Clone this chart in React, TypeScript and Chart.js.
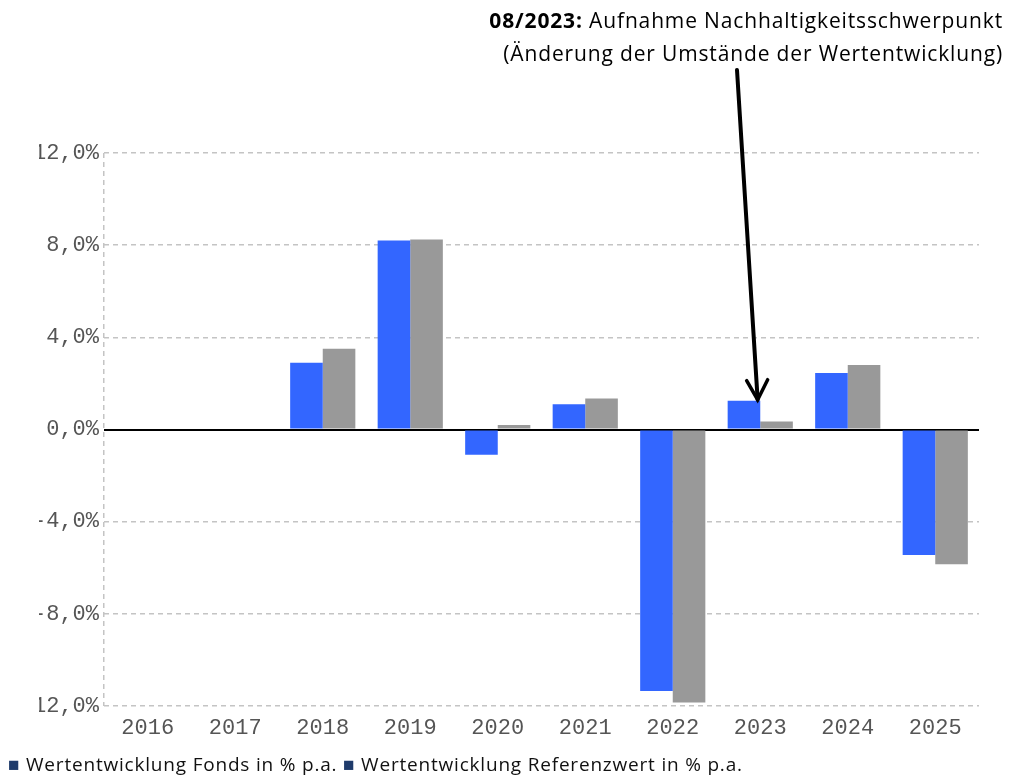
import React, { useEffect, useRef } from "react";
import { Chart, registerables } from "chart.js";

Chart.register(...registerables);

const categories = ["2016", "2017", "2018", "2019", "2020", "2021", "2022", "2023", "2024", "2025"];
const fondsValues: (number | null)[] = [null, null, 2.9, 8.2, -1.1, 1.1, -11.35, 1.25, 2.45, -5.45];
const refValues: (number | null)[] = [null, null, 3.5, 8.25, 0.2, 1.35, -11.85, 0.35, 2.8, -5.85];
const fondsLabel = "Wertentwicklung Fonds in % p.a.";
const refLabel = "Wertentwicklung Referenzwert in % p.a.";
const noteBold = "08/2023:";
const noteLine1 = " Aufnahme Nachhaltigkeitsschwerpunkt";
const noteLine2 = "(Änderung der Umstände der Wertentwicklung)";
const arrowIndex = 7;

const TICK_FONT = { family: "'Liberation Mono', 'DejaVu Sans Mono', monospace", size: 22 };

const arrowPlugin = {
  id: "arrowNote",
  afterDraw(chart: any) {
    const meta = chart.getDatasetMeta(0);
    const el = meta.data[arrowIndex];
    if (!el) return;
    const ctx = chart.ctx;
    const tipX = el.x + el.width * 0.42;
    const tipY = el.y - 1;
    const startX = 737;
    const startY = 70;
    ctx.save();
    ctx.strokeStyle = "#000";
    ctx.lineWidth = 4;
    ctx.lineCap = "round";
    ctx.beginPath();
    ctx.moveTo(startX, startY);
    ctx.lineTo(tipX, tipY);
    ctx.stroke();
    ctx.lineWidth = 3.5;
    ctx.beginPath();
    ctx.moveTo(tipX - 11, tipY - 19);
    ctx.lineTo(tipX, tipY);
    ctx.lineTo(tipX + 10, tipY - 20);
    ctx.stroke();
    ctx.restore();
  },
};

export default function App() {
  const canvasRef = useRef<HTMLCanvasElement | null>(null);

  useEffect(() => {
    if (!canvasRef.current) return;
    const chart = new Chart(canvasRef.current, {
      type: "bar",
      data: {
        labels: categories,
        datasets: [
          {
            label: fondsLabel,
            data: fondsValues,
            backgroundColor: "#3366ff",
            borderWidth: 0,
            categoryPercentage: 0.745,
            barPercentage: 1.0,
          },
          {
            label: refLabel,
            data: refValues,
            backgroundColor: "#999999",
            borderWidth: 0,
            categoryPercentage: 0.745,
            barPercentage: 1.0,
          },
        ],
      },
      options: {
        responsive: false,
        animation: false,
        devicePixelRatio: 1,
        layout: { padding: { top: 153, bottom: 32, left: 0, right: 35 } },
        plugins: {
          legend: { display: false },
          tooltip: { enabled: false },
        },
        scales: {
          x: {
            grid: {
              display: true,
              drawTicks: false,
              color: (c: any) => (c.index === 0 ? "#c4c4c4" : "rgba(0,0,0,0)"),
              lineWidth: 1.5,
            },
            border: { display: false, dash: [5, 4] },
            ticks: { color: "#555", font: TICK_FONT, padding: 9 },
            afterFit: (scale: any) => {
              scale.height = 40;
            },
          },
          y: {
            min: -12,
            max: 12,
            grid: {
              drawTicks: false,
              color: (c: any) => (c.tick && c.tick.value === 0 ? "#000" : "#c4c4c4"),
              lineWidth: (c: any) => (c.tick && c.tick.value === 0 ? 2 : 1.5),
            },
            border: {
              display: false,
              dash: (c: any) => (c.tick && c.tick.value === 0 ? [] : [5, 4]),
            },
            ticks: {
              stepSize: 4,
              color: "#555",
              font: TICK_FONT,
              padding: 5,
              callback: (v: any) => Number(v).toFixed(1).replace(".", ",") + "%",
            },
            afterFit: (scale: any) => {
              scale.width = 104;
            },
          },
        },
      },
      plugins: [arrowPlugin],
    } as any);
    return () => chart.destroy();
  }, []);

  const textFont = "'Open Sans', 'Noto Sans', sans-serif";

  return (
    <div style={{ position: "absolute", left: 0, top: 0, width: 1014, height: 778, background: "#fff", overflow: "hidden" }}>
      <div style={{ position: "absolute", left: 39, top: 0, width: 975, height: 778, overflow: "hidden" }}>
        <canvas
          ref={canvasRef}
          width={1014}
          height={778}
          style={{ position: "absolute", left: -39, top: 0, width: 1014, height: 778 }}
        />
      </div>
      <div
        style={{
          position: "absolute",
          right: 11,
          top: 4,
          textAlign: "right",
          fontFamily: textFont,
          fontSize: 21,
          lineHeight: "33px",
          letterSpacing: "0.85px",
          color: "#000",
          whiteSpace: "nowrap",
        }}
      >
        <div>
          <b>{noteBold}</b>
          {noteLine1}
        </div>
        <div>{noteLine2}</div>
      </div>
      <div
        style={{
          position: "absolute",
          left: 8,
          top: 752,
          fontFamily: textFont,
          fontSize: 19,
          lineHeight: "24px",
          letterSpacing: "0.8px",
          color: "#111",
          whiteSpace: "nowrap",
        }}
      >
        <span style={{ color: "#1f3b6b" }}>■</span> {fondsLabel} <span style={{ color: "#1f3b6b" }}>■</span> {refLabel}
      </div>
    </div>
  );
}
